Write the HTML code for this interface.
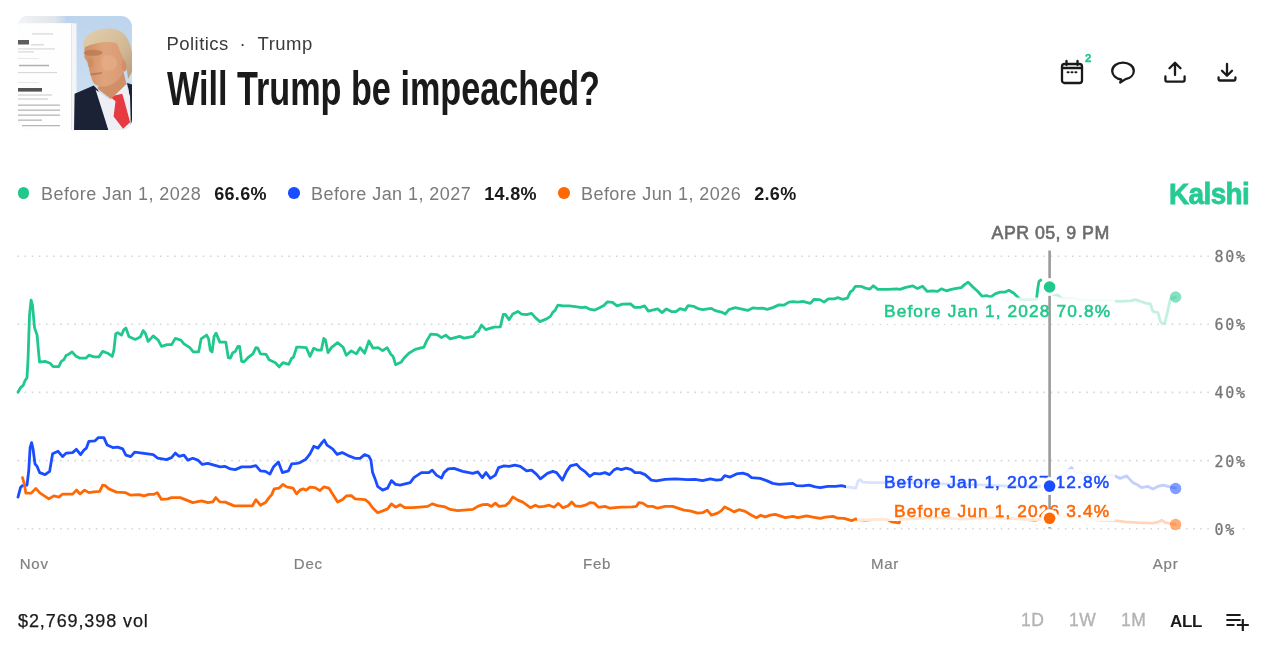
<!DOCTYPE html>
<html lang="en"><head><meta charset="utf-8"><title>Will Trump be impeached? | Kalshi</title>
<style>
*{box-sizing:border-box;margin:0;padding:0}
html,body{width:1280px;height:663px;background:#fff;overflow:hidden}
body{font-family:"Liberation Sans",sans-serif;color:#1a1a1a;position:relative}
.abs{position:absolute;white-space:nowrap;line-height:1}
.avatar{position:absolute;left:18px;top:16px;width:114px;height:114px;border-radius:11px;overflow:hidden}
.crumbs{left:166.500px;top:35.14px;font-size:18.5px;color:#3a3a3a;letter-spacing:.45px}
.crumbs i{font-style:normal;padding:0 11.600px 0 10.700px}
h1{position:absolute;left:167px;top:64.42px;font-size:49px;font-weight:700;line-height:1;white-space:nowrap;color:#1a1a1a;transform-origin:0 0;transform:scaleX(0.6979)}
.tools svg{position:absolute;fill:none;stroke:#1a1a1a;stroke-width:2.3;stroke-linecap:round;stroke-linejoin:round}
.badge{left:1085px;top:52.57px;font-size:11.500px;font-weight:700;color:#20c88c;-webkit-text-stroke:.3px #20c88c}
.legend .it{position:absolute;top:185.06px;font-size:18px;line-height:1;white-space:nowrap;color:#7a7a7a;letter-spacing:.45px}
.legend .dot{position:absolute;top:187.450px;width:11.500px;height:11.500px;border-radius:50%}
.legend b{color:#1a1a1a;font-weight:700;margin-left:13px;letter-spacing:.3px}
.logo{left:1169.400px;top:178.83px;font-size:29.500px;font-weight:700;color:#25cb92;letter-spacing:-.6px;-webkit-text-stroke:.8px #25cb92;transform-origin:0 0;transform:scaleX(.945)}
.chart{position:absolute;left:0;top:0}
.chart path{fill:none;stroke-width:2.8;stroke-linejoin:round;stroke-linecap:round}
.grid line{stroke:#d6d6d6;stroke-width:1.6;stroke-dasharray:1.6 5.525}
.ylab text{font:15px "DejaVu Sans Mono","Liberation Mono",monospace;fill:#777;letter-spacing:1.750px;stroke:#777;stroke-width:.28px}
.xlab text{font:15px "Liberation Sans",sans-serif;fill:#808080;stroke:#808080;stroke-width:.2px;letter-spacing:.8px}
.tip{font:400 17.800px "Liberation Sans",sans-serif;fill:#6b6b6b;stroke:#6b6b6b;stroke-width:.6px;letter-spacing:.45px}
.lbl{font:400 17.300px "Liberation Sans",sans-serif;stroke-width:.55px}
.vol{left:18px;top:611.66px;font-size:18px;color:#1a1a1a;letter-spacing:.9px;-webkit-text-stroke:.25px #1a1a1a}
.rng{top:612.09px;font-size:17.500px;color:#b3b3b3;letter-spacing:.5px;-webkit-text-stroke:.35px #b3b3b3}
.rng.on{color:#1a1a1a;font-weight:700;font-size:17px;top:612.51px;letter-spacing:-.3px;-webkit-text-stroke:0}
</style></head><body>

<div class="avatar">
<svg width="114" height="114" viewBox="0 0 114 114">
<defs><filter id="bl" x="-10%" y="-10%" width="120%" height="120%"><feGaussianBlur stdDeviation=".7"/></filter>
<filter id="bl2"><feGaussianBlur stdDeviation=".35"/></filter>
<linearGradient id="sky" x1="0" y1="0" x2="0" y2="1"><stop offset="0" stop-color="#bdd4ed"/><stop offset="1" stop-color="#d3e3f3"/></linearGradient>
<linearGradient id="tp" x1="0" y1="0" x2="1" y2="0"><stop offset="0" stop-color="#f4f5f6"/><stop offset=".8" stop-color="#dfe5ea"/><stop offset="1" stop-color="#c4d8ee"/></linearGradient>
<linearGradient id="fc" x1="0" y1="0" x2="1" y2="0"><stop offset="0" stop-color="#d08f63"/><stop offset=".5" stop-color="#e0a47c"/><stop offset="1" stop-color="#d89a74"/></linearGradient>
<linearGradient id="hr" x1="0" y1="0" x2="1" y2="1"><stop offset="0" stop-color="#e3cfae"/><stop offset=".6" stop-color="#d2b994"/><stop offset="1" stop-color="#b79a7c"/></linearGradient></defs>
<rect width="114" height="114" fill="url(#sky)"/>
<g filter="url(#bl)">
<rect x="-3" y="-3" width="50" height="12" fill="url(#tp)"/>
<rect x="-3" y="7.300" width="61.500" height="112" fill="#f3f5f7"/>
<rect x="-3" y="7.300" width="56" height="112" fill="#fefefe"/><rect x="53.200" y="8" width=".8" height="108" fill="#dfe3e8"/>
<path d="M56.600 77.700 L75.700 69.500 L80 74 L91 116 L56 116 Z" fill="#1b2236"/>
<path d="M108.900 67 L116 69 L116 116 L112 116 L110.800 74 Z" fill="#1b2236"/>
<path d="M77.600 73.800 L92 84 L108 68.100 L112 80 L113 116 L91 116 Z" fill="#eeeff5"/>
<path d="M91.800 80.500 L104.200 77.700 L106 83.400 L112.100 106.200 L105.100 112.800 L95.600 100.500 L97.500 85.300 Z" fill="#e63a40"/>
<path d="M82 60 L104 50 L108.500 68 L93 83 L80 73 Z" fill="#cf9068"/>
<path d="M66.500 28 C70 22 88 18 99 22 L106 44 C108 50 106 58 101 63 C96 68 90 71 83 70.500 C78 70 75 67 74.200 64 L72.300 58 L71.300 54 L70 47 L66.500 41.500 Z" fill="url(#fc)"/>
<ellipse cx="75" cy="36.800" rx="9.500" ry="3" fill="#b4714a" opacity=".62"/><ellipse cx="91" cy="47" rx="8" ry="8" fill="#e8b08a" opacity=".55"/><ellipse cx="72.500" cy="47" rx="3" ry="5" fill="#c88458" opacity=".5"/><ellipse cx="106.500" cy="49" rx="3" ry="6.500" fill="#d48f6a"/>
<path d="M72 57.500 L84 56 L84 58 L73 59.500 Z" fill="#b06a4a" opacity=".6"/>
<path d="M65 30 C64.500 19 76 13 90 12.500 C101 12 108 17 112 28 L114.500 38.600 L114.500 55 L110 63 L108 47 L104.500 41 L101.500 34 L99 27.500 C92 24.500 77 26 66.500 31.500 Z" fill="url(#hr)"/>
</g>
<g fill="#2c2c2c" filter="url(#bl2)">
<rect x="14" y="17.500" width="21" height=".9" opacity="0.28"/>
<rect x="0" y="24" width="11" height="4.500" opacity="0.77"/><rect x="13" y="28.500" width="13" height=".8" opacity="0.31"/>
<rect x="0" y="32.500" width="37" height=".9" opacity="0.25"/><rect x="0" y="35.500" width="16" height=".9" opacity="0.25"/>
<rect x="0" y="42.400" width="21" height=".6" opacity="0.19"/>
<rect x="1" y="48.800" width="30" height="1.500" opacity="0.37"/><rect x="0" y="56.200" width="39" height=".9" opacity="0.22"/>
<rect x="0" y="66.300" width="21" height=".6" opacity="0.19"/>
<rect x="0" y="72" width="24" height="3.600" opacity="0.81"/>
<rect x="0" y="78.500" width="34" height="1" opacity="0.28"/><rect x="0" y="82.500" width="30" height="1" opacity="0.28"/>
<rect x="0" y="88.500" width="42" height="1.300" opacity="0.34"/><rect x="0" y="93.500" width="42" height="1.300" opacity="0.34"/>
<rect x="0" y="98.500" width="42" height="1.300" opacity="0.34"/><rect x="0" y="103.500" width="24" height="1.300" opacity="0.34"/>
<rect x="4" y="109" width="38" height="1.300" opacity="0.34"/>
</g>
</svg>
</div>

<div class="abs crumbs">Politics<i>·</i>Trump</div>
<h1>Will Trump be impeached?</h1>

<div class="tools">
<svg style="left:1059px;top:59px" width="26" height="27" viewBox="0 0 26 27"><rect x="3" y="5" width="20" height="19" rx="2.5"/><path d="M3 9h20M7.500 2v4M18.500 2v4"/><path d="M8.600 13.300h1M12.500 13.300h1M16.400 13.300h1" stroke-width="2"/></svg>
<svg style="left:1109px;top:59px" width="28" height="27" viewBox="0 0 28 27"><path d="M14 3.6c-6 0-10.8 3.6-10.800 8.400c0 4.300 4 7.700 9 8.300l-1 3.200l5.400-3.400c4.700-.9 8.200-4.100 8.200-8.100c0-4.800-4.800-8.400-10.800-8.400z"/></svg>
<svg style="left:1162px;top:59px" width="26" height="26" viewBox="0 0 26 26"><path d="M13 16V4M7.500 9.300L13 3.800l5.500 5.500M3.400 17.500v3.600a1.600 1.600 0 0 0 1.600 1.600h16a1.600 1.600 0 0 0 1.600-1.600v-3.600"/></svg>
<svg style="left:1214px;top:59px" width="26" height="26" viewBox="0 0 26 26"><path d="M13 5v11.500M8 11.700l5 5l5-5M4.600 18.500v1.600a1.400 1.400 0 0 0 1.400 1.400h14a1.400 1.400 0 0 0 1.400-1.400v-1.600"/></svg>
</div>
<div class="abs badge">2</div>

<div class="legend">
<span class="dot" style="left:17.850px;background:#20c88c"></span><div class="it" style="left:41px">Before Jan 1, 2028<b>66.6%</b></div>
<span class="dot" style="left:288.350px;background:#1a4dff"></span><div class="it" style="left:311px">Before Jan 1, 2027<b>14.8%</b></div>
<span class="dot" style="left:558.300px;background:#ff6905"></span><div class="it" style="left:581px">Before Jun 1, 2026<b>2.6%</b></div>
</div>
<div class="abs logo">Kalshi</div>

<svg class="chart" width="1280" height="663" viewBox="0 0 1280 663">
<g class="grid"><line x1="17.45" y1="256.3" x2="1209.5" y2="256.3"/><line x1="17.45" y1="324.3" x2="1209.5" y2="324.3"/><line x1="17.45" y1="392.4" x2="1209.5" y2="392.4"/><line x1="17.45" y1="460.6" x2="1209.5" y2="460.6"/><line x1="17.45" y1="528.7" x2="1209.5" y2="528.7"/><line x1="1242.800" y1="528.700" x2="1245" y2="528.700"/></g>
<g class="ylab"><text x="1214.500" y="261.600">80%</text><text x="1214.500" y="329.700">60%</text><text x="1214.500" y="397.800">40%</text><text x="1214.500" y="466.500">20%</text><text x="1214.500" y="534.500">0%</text></g>
<g class="xlab"><text x="19.700" y="568.700">Nov</text><text x="293.800" y="568.700">Dec</text><text x="583" y="568.700">Feb</text><text x="870.900" y="568.700">Mar</text><text x="1152.700" y="568.700">Apr</text></g>
<path d="M18.0,392.2 L20.5,387.7 L23.0,385.7 L25.0,380.7 L27.0,377.7 L28.0,360.2 L29.5,315.1 L31.1,300.1 L32.5,305.1 L34.5,327.6 L37.1,335.1 L38.6,352.7 L39.6,362.2 L45.1,361.4 L50.1,363.2 L53.1,366.7 L58.8,366.7 L61.3,361.4 L63.9,359.7 L66.3,355.2 L68.8,354.2 L72.1,351.9 L75.6,355.9 L80.1,358.2 L85.9,358.2 L88.9,355.2 L93.9,356.9 L98.9,356.9 L102.7,351.4 L107.7,353.2 L112.2,356.4 L113.9,350.2 L115.7,333.9 L117.7,332.6 L121.4,335.1 L123.9,329.6 L125.9,328.1 L128.9,336.4 L135.2,339.4 L140.2,337.1 L143.2,330.6 L145.2,333.1 L148.2,341.4 L153.2,335.9 L158.2,340.1 L161.5,346.4 L167.2,344.7 L171.5,344.7 L175.3,338.4 L180.8,340.1 L184.0,343.9 L189.8,347.7 L193.3,351.9 L198.6,351.9 L201.1,338.9 L206.6,335.1 L208.6,338.9 L210.3,350.2 L212.1,351.9 L214.1,336.4 L216.1,333.1 L219.8,342.1 L225.8,342.1 L228.3,357.7 L230.3,358.2 L232.8,352.7 L235.3,351.4 L237.9,346.4 L239.6,346.4 L241.6,361.4 L244.1,361.9 L247.9,357.7 L252.9,353.9 L255.9,347.7 L257.9,348.2 L260.4,353.9 L266.1,354.4 L269.1,359.7 L275.4,362.7 L279.2,366.9 L282.9,362.7 L288.7,364.4 L291.7,358.2 L293.4,357.2 L296.7,347.2 L300.0,347.2 L306.3,347.7 L310.0,356.4 L313.8,348.2 L318.0,350.2 L321.3,350.2 L323.8,338.4 L325.5,340.1 L328.0,352.7 L331.3,347.7 L337.6,342.6 L343.1,347.2 L346.3,355.2 L351.3,350.9 L356.3,353.9 L360.1,347.7 L364.6,353.2 L368.9,340.9 L373.1,348.2 L378.1,347.7 L382.6,350.7 L387.1,347.7 L390.6,353.9 L393.1,356.4 L395.6,364.7 L401.4,361.9 L403.9,358.2 L408.9,353.2 L415.2,349.4 L423.9,347.2 L426.4,341.4 L430.7,334.1 L437.2,334.6 L441.5,337.6 L445.7,335.1 L450.2,338.9 L459.7,336.4 L464.0,338.1 L473.5,336.4 L476.0,332.6 L478.3,331.4 L481.5,325.1 L485.8,329.6 L494.0,327.1 L500.3,326.9 L503.3,314.4 L505.3,314.4 L509.1,319.6 L512.8,313.9 L517.8,311.4 L521.6,314.1 L526.6,314.6 L531.6,313.4 L535.4,317.6 L539.9,321.6 L546.6,318.9 L550.4,316.4 L552.9,312.1 L554.9,310.6 L557.9,305.1 L562.9,305.9 L569.1,305.9 L575.4,306.6 L581.7,307.6 L585.4,307.1 L590.4,309.4 L594.9,310.1 L600.0,307.6 L603.8,305.6 L607.5,301.8 L612.5,302.3 L617.0,305.9 L622.5,304.1 L630.5,303.9 L634.5,307.4 L640.1,307.4 L644.6,305.9 L648.3,311.1 L657.6,308.9 L662.1,312.6 L666.4,308.9 L671.4,311.6 L675.9,311.6 L680.1,308.6 L685.1,310.1 L688.1,305.6 L693.9,306.4 L698.9,308.9 L702.6,309.6 L711.4,308.4 L715.2,310.6 L721.4,312.1 L725.2,314.1 L728.9,309.6 L735.2,307.6 L747.7,310.4 L752.7,307.9 L757.7,308.4 L762.7,308.1 L767.2,309.4 L772.8,307.6 L779.0,304.9 L784.0,305.1 L789.0,302.1 L792.8,301.6 L797.8,302.1 L802.8,301.3 L810.3,303.4 L814.1,299.3 L819.8,299.6 L824.1,302.1 L828.3,298.8 L834.1,298.8 L837.9,297.6 L842.4,299.3 L847.4,298.1 L850.4,291.8 L852.4,290.8 L855.4,286.3 L860.9,286.3 L865.4,288.1 L869.9,289.1 L873.4,285.8 L877.9,289.3 L887.9,289.3 L896.7,288.8 L900.0,289.3 L905.0,287.6 L912.5,285.8 L917.5,288.6 L922.5,286.3 L927.0,291.3 L932.5,290.8 L937.6,291.3 L941.3,288.8 L946.3,290.8 L951.3,289.3 L956.3,288.3 L961.3,287.6 L964.6,284.6 L968.1,282.1 L972.6,286.8 L977.6,291.3 L982.1,296.3 L986.4,295.6 L990.6,297.1 L995.1,293.8 L1000.1,292.1 L1005.2,292.1 L1008.9,290.3 L1013.9,293.3 L1017.7,297.1 L1020.7,299.3 L1027.7,299.6 L1036.5,299.3 L1037.7,288.8 L1039.0,281.3 L1040.7,280.1" stroke="#20c88c"/><path d="M1049.7,287.1 L1052.7,294.6 L1057.7,295.1 L1062.7,298.8 L1075.3,298.8 L1080.3,299.6 L1095.3,300.6 L1112.8,300.6 L1117.8,301.3 L1130.3,300.8 L1135.3,299.6 L1140.4,301.3 L1145.4,303.1 L1150.4,303.9 L1152.9,311.4 L1157.9,312.6 L1160.4,321.4 L1162.4,323.9 L1164.9,322.6 L1167.9,310.1 L1170.4,298.8 L1175.4,297.1" stroke="#20c88c" opacity=".27"/><circle cx="1175.6" cy="297" r="5.700" fill="#20c88c" stroke="none" opacity=".55"/>
<path d="M18.0,497.1 L20.5,487.6 L22.5,485.6 L27.0,485.1 L28.8,470.1 L30.1,447.6 L31.6,442.6 L33.0,448.8 L35.0,463.9 L37.1,466.4 L39.6,472.6 L45.1,474.6 L49.6,471.4 L52.6,453.8 L58.1,451.3 L62.6,456.6 L66.3,453.1 L72.6,452.6 L76.4,449.3 L80.6,454.6 L83.9,450.1 L86.4,448.1 L88.9,441.3 L95.1,440.8 L98.4,437.6 L103.9,437.6 L107.2,445.1 L112.7,447.6 L117.7,447.1 L122.7,448.8 L125.9,455.1 L130.7,456.6 L134.7,452.1 L144.0,453.3 L153.2,454.6 L157.7,458.1 L166.5,459.6 L171.5,457.6 L175.3,453.1 L179.0,456.3 L184.0,455.1 L187.8,460.1 L192.8,458.3 L197.8,460.1 L202.3,464.4 L207.8,463.4 L220.3,466.9 L225.3,466.4 L230.3,468.9 L235.3,469.6 L241.6,466.9 L250.4,466.9 L255.9,465.6 L260.4,470.9 L265.4,471.4 L269.9,474.1 L273.4,467.1 L278.4,462.1 L282.4,472.6 L288.4,470.9 L291.7,463.9 L296.7,463.4 L300.0,462.6 L305.5,459.6 L310.0,453.8 L313.8,446.3 L318.0,448.1 L322.0,442.6 L324.3,440.1 L327.0,445.1 L332.6,448.8 L337.1,454.3 L342.1,452.6 L348.1,455.6 L355.1,458.3 L360.1,458.3 L364.6,454.6 L368.9,456.3 L370.9,460.1 L372.6,472.6 L375.1,478.9 L377.6,486.4 L382.6,490.1 L387.6,488.1 L391.4,480.6 L395.6,484.4 L400.1,485.1 L410.2,482.6 L413.9,477.6 L421.4,472.6 L428.9,472.6 L432.2,470.1 L436.4,475.1 L441.5,478.1 L444.0,472.6 L448.2,468.9 L454.0,468.4 L462.7,471.4 L472.8,473.4 L477.8,471.9 L482.3,477.6 L486.0,472.6 L490.3,478.4 L495.3,475.1 L498.6,467.6 L504.1,465.9 L509.1,466.4 L514.8,465.1 L520.3,466.4 L526.6,470.9 L531.6,470.1 L536.6,474.4 L540.4,478.9 L547.4,473.4 L552.9,471.4 L556.6,472.6 L562.4,480.1 L566.6,471.4 L570.4,465.9 L576.7,464.4 L580.4,468.4 L585.4,471.9 L589.9,476.4 L594.2,473.4 L599.2,473.9 L600.0,473.9 L605.0,472.6 L609.5,474.6 L613.8,470.1 L617.0,468.4 L621.3,469.6 L626.3,468.1 L631.3,469.6 L635.0,472.6 L640.1,472.6 L645.1,474.6 L651.3,480.1 L656.3,480.9 L665.1,479.4 L675.1,478.9 L687.6,479.6 L695.1,479.4 L702.6,480.6 L710.2,478.9 L716.4,480.1 L721.4,479.6 L724.7,475.6 L730.2,477.1 L736.5,473.9 L742.7,473.1 L747.7,474.6 L751.5,477.6 L760.2,478.4 L766.5,480.6 L772.8,483.4 L779.0,484.4 L792.8,483.4 L796.5,485.6 L802.8,485.9 L809.1,485.1 L815.3,486.9 L820.3,487.6 L827.8,486.4 L835.4,486.4 L841.6,485.6 L846.6,486.9 L855.9,488.1 L857.9,481.4 L859.9,479.6 L862.9,482.1 L870.4,482.6 L885.4,482.6 L900.0,482.1 L925.0,483.1 L950.1,484.1 L975.1,484.6 L1000.1,485.6 L1025.2,486.6 L1049.7,485.9" stroke="#1a4dff"/><path d="M1049.7,485.9 L1060.2,476.4 L1065.2,472.6 L1071.5,467.6 L1075.3,472.6 L1090.3,473.9 L1112.8,475.1 L1120.3,478.4 L1126.6,475.9 L1132.8,482.6 L1137.9,485.1 L1141.6,487.6 L1147.9,486.4 L1152.9,488.9 L1157.9,486.4 L1162.9,485.1 L1167.9,486.4 L1175.4,488.1" stroke="#1a4dff" opacity=".27"/><circle cx="1175.6" cy="488.5" r="5.700" fill="#1a4dff" stroke="none" opacity=".55"/>
<path d="M22.5,477.6 L24.3,483.9 L25.8,493.1 L31.3,493.1 L35.8,488.4 L40.1,493.1 L45.1,496.4 L48.8,498.9 L53.8,495.9 L58.8,497.1 L62.6,494.1 L72.6,494.1 L76.4,490.1 L80.1,493.9 L84.6,490.1 L88.9,492.6 L93.9,491.9 L99.7,491.4 L102.7,485.1 L105.2,485.6 L108.9,488.9 L116.4,492.1 L125.2,492.6 L130.2,495.1 L139.0,494.6 L144.0,495.9 L149.0,494.4 L154.0,494.4 L157.2,492.6 L161.5,499.4 L167.8,498.9 L171.5,497.6 L180.3,497.6 L192.8,502.6 L201.6,500.9 L207.8,502.6 L212.8,501.9 L215.8,497.6 L219.8,501.9 L225.3,502.1 L234.1,505.9 L252.4,505.9 L255.9,499.6 L260.4,505.2 L265.4,502.6 L269.1,497.6 L271.7,494.6 L274.2,488.9 L279.2,488.1 L282.9,484.4 L286.7,486.9 L292.9,488.1 L296.7,493.9 L300.0,490.1 L303.0,488.9 L306.3,490.1 L310.0,487.1 L315.0,487.6 L320.0,490.6 L323.8,486.9 L328.8,488.1 L332.6,493.9 L337.6,502.1 L342.6,499.4 L346.3,495.9 L351.3,495.6 L355.1,498.9 L365.1,499.6 L368.9,502.6 L372.6,507.7 L377.6,512.7 L382.6,510.9 L387.6,508.9 L391.4,503.9 L395.6,507.2 L400.1,504.7 L404.7,507.7 L412.7,507.7 L422.7,506.9 L427.7,506.4 L432.2,503.9 L437.7,505.7 L445.2,506.9 L450.2,509.4 L457.7,510.7 L472.8,509.4 L477.8,506.4 L482.8,504.7 L487.8,504.4 L491.5,506.4 L495.3,503.1 L499.1,506.4 L505.3,505.7 L509.1,502.6 L512.8,496.9 L517.8,500.1 L522.8,502.1 L530.4,507.7 L535.4,505.2 L539.1,506.9 L544.1,506.4 L549.1,505.2 L554.1,507.2 L558.4,503.4 L562.9,507.7 L567.9,505.9 L571.7,502.1 L575.4,505.9 L580.4,506.4 L585.4,505.2 L590.4,502.6 L594.2,503.1 L598.5,507.2 L600.0,507.2 L605.0,506.4 L610.0,508.2 L615.0,507.7 L621.3,507.2 L632.5,506.9 L636.3,506.4 L638.8,502.6 L642.6,503.1 L647.6,506.4 L652.6,506.4 L657.6,508.2 L665.1,506.4 L672.6,506.4 L683.9,510.2 L690.1,510.9 L697.6,513.2 L702.6,512.7 L707.2,510.2 L711.4,515.2 L717.7,513.2 L721.4,510.7 L724.7,506.9 L728.9,508.9 L734.0,511.9 L739.0,509.7 L745.2,511.4 L751.5,515.2 L756.5,517.7 L760.7,515.2 L765.2,516.9 L770.3,515.2 L775.3,514.4 L785.3,517.7 L792.8,516.4 L797.8,517.7 L806.6,515.9 L812.8,517.2 L820.3,518.4 L825.3,517.2 L832.9,516.4 L837.9,518.2 L844.1,518.4 L851.6,520.7 L855.4,518.9 L857.9,519.7 L865.4,520.2 L875.4,519.4 L887.9,519.7 L891.7,521.9 L899.2,522.9 L900.0,519.7 L915.0,518.7 L937.6,517.7 L962.6,519.2 L987.6,517.7 L1012.7,518.7 L1035.2,520.2 L1049.7,517.7" stroke="#ff6905"/><path d="M1049.7,517.7 L1062.7,515.2 L1075.3,517.7 L1100.3,520.2 L1115.3,520.7 L1125.3,521.9 L1137.9,522.7 L1152.9,523.2 L1157.9,522.2 L1161.6,520.2 L1165.4,522.7 L1175.4,524.4" stroke="#ff6905" opacity=".27"/><circle cx="1175.6" cy="524.5" r="5.700" fill="#ff6905" stroke="none" opacity=".55"/>
<rect x="851" y="297.500" width="264" height="26.500" fill="#fff" opacity=".84"/>
<rect x="846" y="469" width="269" height="25" fill="#fff" opacity=".84"/>
<rect x="857" y="498" width="258" height="23" fill="#fff" opacity=".84"/>
<line x1="1049.6" y1="250.500" x2="1049.6" y2="528.500" stroke="#9a9a9a" stroke-width="2.6"/>
<text class="tip" x="991.600" y="238.800">APR 05, 9 PM</text>
<text class="lbl" x="884" y="317.400" fill="#20c88c" stroke="#20c88c" textLength="226">Before Jan 1, 2028 70.8%</text>
<text class="lbl" x="884" y="488.400" fill="#1a4dff" stroke="#1a4dff" textLength="225">Before Jan 1, 2027 12.8%</text>
<text class="lbl" x="894" y="517.400" fill="#ff6905" stroke="#ff6905" textLength="215">Before Jun 1, 2026 3.4%</text>
<circle cx="1049.6" cy="287" r="9" fill="#fff"/><circle cx="1049.6" cy="287" r="5.800" fill="#20c88c"/>
<circle cx="1049.6" cy="486.100" r="9" fill="#fff"/><circle cx="1049.6" cy="486.100" r="5.800" fill="#1a4dff"/>
<circle cx="1049.6" cy="518.300" r="9" fill="#fff"/><circle cx="1049.6" cy="518.300" r="5.800" fill="#ff6905"/>
</svg>

<div class="abs vol">$2,769,398 vol</div>
<div class="abs rng" style="left:1021px">1D</div>
<div class="abs rng" style="left:1069px">1W</div>
<div class="abs rng" style="left:1121px">1M</div>
<div class="abs rng on" style="left:1170px">ALL</div>
<svg style="position:absolute;left:1224px;top:610.500px" width="28" height="24" viewBox="0 0 28 24" fill="none" stroke="#1a1a1a" stroke-width="2.200"><path d="M2.400 4h14.200M2.400 9h14.200M2.400 14h8.100M12.800 14h12M18.800 8v12"/></svg>
</body></html>
